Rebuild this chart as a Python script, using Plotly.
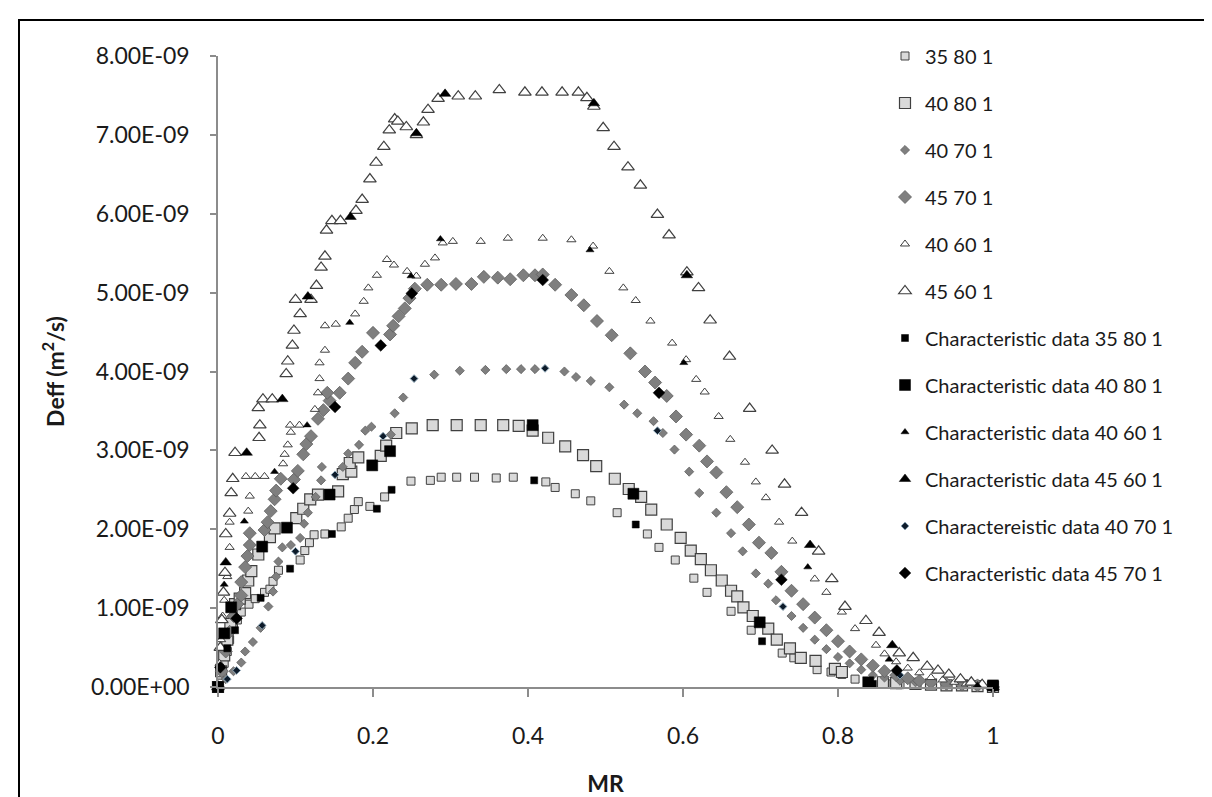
import plotly.graph_objects as go

# ---------------- data (MR, Deff in units of 1E-09 m2/s) ----------------
mr_35_80 = [0, 0.004, 0.008, 0.012, 0.015, 0.02, 0.025, 0.03, 0.04, 0.048, 0.06, 0.067, 0.071, 0.078,
            0.106, 0.112, 0.118, 0.124, 0.138, 0.159, 0.168, 0.176, 0.181, 0.196, 0.215, 0.249, 0.274,
            0.288, 0.308, 0.331, 0.359, 0.381, 0.423, 0.435, 0.461, 0.481, 0.515, 0.554, 0.569, 0.59,
            0.614, 0.631, 0.662, 0.688, 0.728, 0.743, 0.773, 0.791, 0.805, 0.822, 0.862, 0.88, 0.9,
            0.92, 0.94, 0.96, 0.98, 1.0]
d_35_80 = [0, 0.15, 0.3, 0.45, 0.6, 0.75, 0.85, 0.95, 1.05, 1.12, 1.2, 1.24, 1.34, 1.48,
           1.61, 1.73, 1.83, 1.93, 1.94, 2.03, 2.14, 2.25, 2.35, 2.29, 2.41, 2.61, 2.62,
           2.66, 2.66, 2.66, 2.65, 2.66, 2.6, 2.53, 2.45, 2.36, 2.21, 1.94, 1.77, 1.61,
           1.38, 1.2, 0.96, 0.72, 0.43, 0.37, 0.22, 0.19, 0.16, 0.1, 0.04, 0.03, 0.02,
           0.02, 0.01, 0.01, 0.0, 0.0]

mr_40_80 = [0, 0.004, 0.008, 0.012, 0.016, 0.022, 0.028, 0.035, 0.039, 0.043, 0.052, 0.067, 0.073,
            0.101, 0.11, 0.119, 0.129, 0.155, 0.161, 0.172, 0.17, 0.181, 0.21, 0.217, 0.23, 0.25,
            0.277, 0.308, 0.339, 0.368, 0.388, 0.406, 0.426, 0.448, 0.471, 0.488, 0.512, 0.53,
            0.546, 0.559, 0.579, 0.597, 0.61, 0.623, 0.636, 0.65, 0.662, 0.67, 0.678, 0.69, 0.71,
            0.721, 0.738, 0.752, 0.771, 0.796, 0.805, 0.858, 0.875, 0.9, 0.92, 0.94, 0.96, 0.98, 1.0]
d_40_80 = [0, 0.2, 0.4, 0.6, 0.8, 1.05, 1.12, 1.19, 1.35, 1.47, 1.68, 1.9, 2.01,
           2.14, 2.26, 2.38, 2.44, 2.48, 2.7, 2.73, 2.84, 2.91, 2.93, 3.06, 3.22, 3.28,
           3.32, 3.32, 3.32, 3.32, 3.31, 3.25, 3.16, 3.05, 2.94, 2.8, 2.64, 2.51,
           2.41, 2.25, 2.06, 1.89, 1.73, 1.62, 1.48, 1.35, 1.22, 1.15, 1.01, 0.9, 0.74,
           0.6, 0.49, 0.37, 0.33, 0.23, 0.19, 0.06, 0.05, 0.04, 0.03, 0.02, 0.02, 0.01, 0.0]

mr_40_70 = [0, 0.01, 0.02, 0.03, 0.035, 0.045, 0.055, 0.065, 0.071, 0.075, 0.078, 0.083, 0.094, 0.106,
            0.111, 0.116, 0.126, 0.133, 0.134, 0.161, 0.168, 0.182, 0.19, 0.198, 0.223, 0.228, 0.239,
            0.279, 0.312, 0.345, 0.372, 0.391, 0.409, 0.447, 0.462, 0.481, 0.505, 0.524, 0.541, 0.562,
            0.574, 0.589, 0.608, 0.621, 0.643, 0.662, 0.677, 0.694, 0.71, 0.72, 0.74, 0.755, 0.77,
            0.785, 0.8, 0.815, 0.83, 0.845, 0.86, 0.88, 0.9, 0.92, 0.94, 0.96, 0.98, 1.0]
d_40_70 = [0, 0.1, 0.2, 0.31, 0.45, 0.57, 0.75, 1.02, 1.21, 1.4, 1.59, 1.77, 1.8, 1.89,
           2.07, 2.21, 2.41, 2.62, 2.79, 2.79, 2.96, 3.07, 3.25, 3.3, 3.2, 3.47, 3.67,
           3.96, 4.01, 4.02, 4.03, 4.03, 4.03, 4.0, 3.93, 3.88, 3.8, 3.58, 3.47, 3.37,
           3.22, 3.01, 2.73, 2.46, 2.21, 1.95, 1.72, 1.44, 1.31, 1.1, 0.9, 0.75, 0.6,
           0.48, 0.38, 0.3, 0.22, 0.15, 0.12, 0.08, 0.06, 0.04, 0.03, 0.02, 0.01, 0.0]

mr_45_70 = [0, 0.005, 0.01, 0.015, 0.02, 0.025, 0.03, 0.03, 0.035, 0.038, 0.041, 0.041, 0.06, 0.064,
            0.068, 0.073, 0.075, 0.081, 0.098, 0.103, 0.11, 0.114, 0.12, 0.129, 0.136, 0.144, 0.141,
            0.157, 0.168, 0.177, 0.186, 0.2, 0.222, 0.226, 0.233, 0.241, 0.247, 0.254, 0.27, 0.288,
            0.307, 0.327, 0.343, 0.361, 0.377, 0.394, 0.409, 0.419, 0.435, 0.456, 0.472, 0.489,
            0.508, 0.532, 0.551, 0.564, 0.579, 0.591, 0.604, 0.621, 0.631, 0.643, 0.656, 0.67,
            0.685, 0.698, 0.714, 0.727, 0.74, 0.755, 0.77, 0.785, 0.8, 0.815, 0.83, 0.845, 0.86,
            0.875, 0.89, 0.905, 0.92, 0.94, 0.96, 0.98, 1.0]
d_45_70 = [0, 0.2, 0.45, 0.7, 0.9, 1.05, 1.16, 1.33, 1.52, 1.66, 1.8, 1.95, 1.99, 2.09,
           2.23, 2.38, 2.49, 2.64, 2.63, 2.74, 2.95, 3.08, 3.18, 3.4, 3.51, 3.63, 3.73,
           3.73, 3.91, 4.11, 4.25, 4.49, 4.47, 4.58, 4.7, 4.8, 4.93, 5.05, 5.1, 5.1,
           5.11, 5.11, 5.2, 5.19, 5.17, 5.22, 5.22, 5.23, 5.1, 4.97, 4.84, 4.64,
           4.46, 4.23, 4.0, 3.86, 3.69, 3.43, 3.2, 3.06, 2.86, 2.72, 2.47, 2.28,
           2.06, 1.83, 1.7, 1.46, 1.22, 1.05, 0.88, 0.72, 0.58, 0.45, 0.35, 0.27, 0.2,
           0.15, 0.11, 0.08, 0.06, 0.04, 0.03, 0.02, 0.0]

mr_40_60 = [0, 0.002, 0.004, 0.006, 0.008, 0.012, 0.015, 0.015, 0.039, 0.041, 0.036, 0.048, 0.06,
            0.084, 0.086, 0.09, 0.094, 0.093, 0.105, 0.125, 0.129, 0.131, 0.131, 0.138, 0.138, 0.152,
            0.177, 0.188, 0.194, 0.205, 0.218, 0.227, 0.244, 0.256, 0.267, 0.28, 0.29, 0.303, 0.339,
            0.374, 0.419, 0.456, 0.484, 0.505, 0.523, 0.539, 0.558, 0.586, 0.604, 0.617, 0.628,
            0.646, 0.661, 0.68, 0.694, 0.707, 0.724, 0.741, 0.77, 0.785, 0.805, 0.822, 0.849, 0.86,
            0.875, 0.89, 0.905, 0.92, 0.935, 0.95, 0.965, 0.98, 1.0]
d_40_60 = [0, 0.3, 0.6, 0.9, 1.1, 1.4, 1.77, 2.09, 2.23, 2.42, 2.67, 2.67, 2.67,
           2.83, 2.95, 3.07, 3.23, 3.32, 3.32, 3.52, 3.73, 3.91, 4.11, 4.27, 4.58, 4.6,
           4.73, 4.89, 5.06, 5.22, 5.42, 5.35, 5.27, 5.21, 5.36, 5.44, 5.63, 5.65, 5.65,
           5.69, 5.69, 5.67, 5.59, 5.27, 5.06, 4.9, 4.64, 4.36, 4.15, 3.9, 3.74,
           3.43, 3.14, 2.85, 2.6, 2.4, 2.09, 1.85, 1.37, 1.2, 0.95, 0.74, 0.53, 0.42,
           0.32, 0.24, 0.18, 0.12, 0.09, 0.06, 0.04, 0.02, 0.0]

mr_45_60 = [0, 0.003, 0.005, 0.007, 0.009, 0.01, 0.015, 0.017, 0.019, 0.022, 0.053, 0.054, 0.052,
            0.058, 0.07, 0.088, 0.09, 0.096, 0.098, 0.106, 0.1, 0.12, 0.127, 0.133, 0.138, 0.14,
            0.147, 0.158, 0.178, 0.186, 0.196, 0.204, 0.214, 0.221, 0.228, 0.232, 0.243, 0.256,
            0.265, 0.271, 0.284, 0.31, 0.332, 0.363, 0.396, 0.418, 0.444, 0.465, 0.476, 0.485,
            0.497, 0.511, 0.529, 0.545, 0.567, 0.582, 0.605, 0.62, 0.635, 0.66, 0.686, 0.715,
            0.731, 0.753, 0.775, 0.792, 0.809, 0.836, 0.853, 0.879, 0.897, 0.915, 0.929, 0.943,
            0.958, 0.972, 0.986, 1.0]
d_45_60 = [0, 0.5, 0.85, 1.2, 1.45, 1.94, 2.2, 2.46, 2.64, 2.97, 3.16, 3.32, 3.54,
           3.65, 3.65, 3.97, 4.13, 4.33, 4.52, 4.73, 4.91, 4.91, 5.09, 5.32, 5.46, 5.79,
           5.91, 5.91, 6.04, 6.18, 6.44, 6.65, 6.85, 7.06, 7.2, 7.17, 7.1, 7.0,
           7.16, 7.32, 7.46, 7.49, 7.49, 7.57, 7.54, 7.54, 7.54, 7.54, 7.47, 7.36,
           7.09, 6.85, 6.59, 6.36, 5.99, 5.73, 5.26, 5.06, 4.65, 4.19, 3.53, 3.0,
           2.57, 2.21, 1.72, 1.37, 1.02, 0.84, 0.69, 0.43, 0.37, 0.26, 0.21, 0.16,
           0.1, 0.06, 0.03, 0.0]

mr_c35_80 = [0, 0.012, 0.022, 0.055, 0.093, 0.147, 0.205, 0.224, 0.408, 0.539, 0.702, 0.845, 1.0]
d_c35_80 = [0, 0.49, 0.72, 1.13, 1.5, 1.94, 2.26, 2.5, 2.62, 2.06, 0.58, 0.04, 0.0]

mr_c40_80 = [0, 0.008, 0.017, 0.057, 0.089, 0.144, 0.199, 0.222, 0.406, 0.536, 0.699, 0.839, 1.0]
d_c40_80 = [0, 0.68, 1.01, 1.78, 2.02, 2.44, 2.81, 2.99, 3.32, 2.45, 0.82, 0.06, 0.02]

mr_c40_60 = [0, 0.008, 0.034, 0.073, 0.115, 0.17, 0.249, 0.287, 0.48, 0.601, 0.761, 0.866, 0.98]
d_c40_60 = [0, 1.3, 2.1, 2.73, 3.32, 4.62, 5.21, 5.68, 5.54, 4.11, 1.52, 0.35, 0.02]

mr_c45_60 = [0, 0.01, 0.037, 0.083, 0.116, 0.171, 0.256, 0.293, 0.485, 0.605, 0.764, 0.87, 1.0]
d_c45_60 = [0, 1.58, 2.97, 3.65, 4.95, 5.96, 7.02, 7.52, 7.4, 5.22, 1.8, 0.53, 0.0]

mr_c40_70 = [0, 0.012, 0.024, 0.057, 0.1, 0.151, 0.213, 0.253, 0.422, 0.567, 0.729, 0.88, 1.0]
d_c40_70 = [0, 0.1, 0.21, 0.78, 1.72, 2.69, 3.18, 3.91, 4.04, 3.25, 1.02, 0.15, 0.0]

mr_c45_70 = [0, 0.003, 0.024, 0.097, 0.151, 0.21, 0.25, 0.419, 0.569, 0.727, 0.876, 1.0]
d_c45_70 = [0, 0.25, 0.87, 2.52, 3.55, 4.33, 4.99, 5.16, 3.73, 1.36, 0.21, 0.0]

y_tick_values = [0, 1, 2, 3, 4, 5, 6, 7, 8]
y_tick_labels = ["0.00E+00", "1.00E-09", "2.00E-09", "3.00E-09", "4.00E-09",
                 "5.00E-09", "6.00E-09", "7.00E-09", "8.00E-09"]
x_tick_values = [0, 0.2, 0.4, 0.6, 0.8, 1]
x_tick_labels = ["0", "0.2", "0.4", "0.6", "0.8", "1"]

# ---------------- figure ----------------
FONT = "Lato, 'Open Sans', sans-serif"
series = [
    ("35 80 1", mr_35_80, d_35_80, dict(symbol="square", size=8, color="#d9d9d9", line=dict(color="#404040", width=1))),
    ("40 80 1", mr_40_80, d_40_80, dict(symbol="square", size=11, color="#d9d9d9", line=dict(color="#404040", width=1.2))),
    ("40 70 1", mr_40_70, d_40_70, dict(symbol="diamond", size=7, color="#7f7f7f", line=dict(color="#606060", width=0.8))),
    ("45 70 1", mr_45_70, d_45_70, dict(symbol="diamond", size=10, color="#7f7f7f", line=dict(color="#606060", width=0.8))),
    ("40 60 1", mr_40_60, d_40_60, dict(symbol="triangle-up", size=8, color="white", line=dict(color="#404040", width=1))),
    ("45 60 1", mr_45_60, d_45_60, dict(symbol="triangle-up", size=11, color="white", line=dict(color="#404040", width=1.2))),
    ("Characteristic data 35 80 1", mr_c35_80, d_c35_80, dict(symbol="square", size=7, color="black", line=dict(color="black", width=0.5))),
    ("Characteristic data 40 80 1", mr_c40_80, d_c40_80, dict(symbol="square", size=11, color="black", line=dict(color="black", width=0.5))),
    ("Characteristic data 40 60 1", mr_c40_60, d_c40_60, dict(symbol="triangle-up", size=7, color="black", line=dict(color="black", width=0.5))),
    ("Characteristic data 45 60 1", mr_c45_60, d_c45_60, dict(symbol="triangle-up", size=10, color="black", line=dict(color="black", width=0.5))),
    ("Charactereistic data 40 70 1", mr_c40_70, d_c40_70, dict(symbol="diamond", size=6, color="#0d1b2a", line=dict(color="#8fa8b8", width=1))),
    ("Characteristic data 45 70 1", mr_c45_70, d_c45_70, dict(symbol="diamond", size=9, color="black", line=dict(color="black", width=0.5))),
]

fig = go.Figure()
for name, xs, ys, mk in series:
    fig.add_trace(go.Scatter(x=xs, y=ys, mode="markers", name=name, legendgroup=name,
                             marker=mk, cliponaxis=False))

L, R, T, B = 210, 227, 48, 102
plot_w = 1212 - L - R
plot_h = 797 - T - B

def px_to_paper_x(px):
    return (px - L) / plot_w

def px_to_paper_y(py):
    return (797 - B - py) / plot_h

fig.update_layout(
    width=1212, height=797,
    margin=dict(l=L, r=R, t=T, b=B),
    paper_bgcolor="white", plot_bgcolor="white",
    font=dict(family=FONT, color="#1a1a1a"),
    showlegend=True,
    legend=dict(x=px_to_paper_x(877), y=px_to_paper_y(28), xanchor="left", yanchor="top",
                font=dict(size=20, family=FONT, color="#1a1a1a"), maxheight=760,
                traceorder="grouped", tracegroupgap=18, bgcolor="rgba(0,0,0,0)"),
    xaxis=dict(range=[0, 1], tickvals=x_tick_values, ticktext=x_tick_labels,
               showline=True, linecolor="#8c8c8c", linewidth=1.5, ticks="outside", ticklen=8,
               tickcolor="#8c8c8c", tickwidth=1.5, showgrid=False, zeroline=False,
               tickfont=dict(size=23, family=FONT, color="#1a1a1a"), ticklabelstandoff=20,
               title=dict(text="<b>MR</b>", font=dict(size=23, family=FONT, color="#1a1a1a"), standoff=28)),
    yaxis=dict(range=[0, 8], tickvals=y_tick_values, ticktext=y_tick_labels,
               showline=True, linecolor="#8c8c8c", linewidth=1.5, ticks="outside", ticklen=6,
               tickcolor="#8c8c8c", tickwidth=1.5, showgrid=False, zeroline=False,
               tickfont=dict(size=23, family=FONT, color="#1a1a1a"), ticklabelstandoff=16,
               title=dict(text="<b>Deff (m<sup>2</sup>/s)</b>", font=dict(size=23, family=FONT, color="#1a1a1a"), standoff=20)),
)

# outer frame of the original picture
fig.add_shape(type="rect", xref="paper", yref="paper",
              x0=px_to_paper_x(11), x1=px_to_paper_x(1230), y0=px_to_paper_y(830), y1=px_to_paper_y(11),
              line=dict(color="black", width=2), fillcolor="rgba(0,0,0,0)", layer="below")

fig.write_html("out.html")
